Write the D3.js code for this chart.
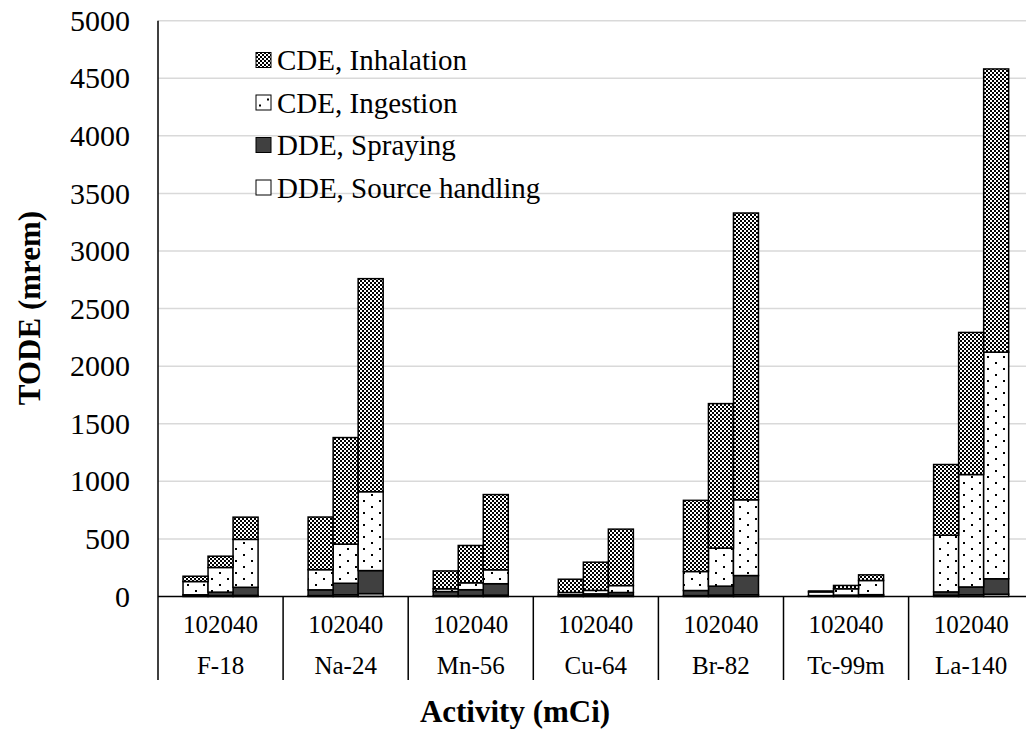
<!DOCTYPE html>
<html>
<head>
<meta charset="utf-8">
<script src="https://cdn.jsdelivr.net/npm/d3@7"></script>
<style>
body { margin: 0; background: #fff; }
svg text { font-family: "Liberation Serif", "Times New Roman", serif; fill: #000; }
</style>
</head>
<body>
<svg id="chart" width="1026" height="742"></svg>
<script>
// isotopes on the x axis, three activities (mCi) per isotope
var isotopes = ["F-18", "Na-24", "Mn-56", "Cu-64", "Br-82", "Tc-99m", "La-140"];
var activities = ["10", "20", "40"];
var seriesNames = ["DDE, Source handling", "DDE, Spraying", "CDE, Ingestion", "CDE, Inhalation"];

// dose (mrem) per isotope, for activity 10 / 20 / 40
var sourceHandling = [[3, 8, 10], [8, 15, 25], [5, 8, 12], [5, 8, 10], [8, 12, 15], [4, 6, 8], [10, 15, 20]];
var spraying       = [[12, 30, 70], [50, 100, 200], [38, 51, 99], [10, 15, 25], [44, 78, 167], [4, 6, 8], [30, 68, 134]];
var ingestion      = [[115, 214, 416], [175, 340, 685], [24, 60, 121], [20, 30, 60], [165, 330, 658], [32, 55, 123], [492, 976, 1968]];
var inhalation     = [[46, 98, 193], [457, 925, 1850], [155, 324, 653], [115, 245, 490], [618, 1255, 2490], [8, 29, 49], [614, 1234, 2459]];

var yTicks = [0, 500, 1000, 1500, 2000, 2500, 3000, 3500, 4000, 4500, 5000];

var serif = "'Liberation Serif', 'Times New Roman', serif";

var svg = d3.select("#chart");

var plotLeft = 158,
groupStep = 125.1,
y0 = 596.5,
yTop = 20.7;

var y = d3.scaleLinear()
.domain([0, 5000])
.range([y0, yTop]);

var xGroup = d3.scaleBand()
.domain(isotopes)
.range([plotLeft, plotLeft + groupStep * isotopes.length]);

var xBar = d3.scaleBand()
.domain(activities)
.range([0, groupStep])
.paddingInner(0)
.paddingOuter(1);

// patterns
var defs = svg.append("defs");

var checker = defs.append("pattern")
.attr("id", "checker")
.attr("patternUnits", "userSpaceOnUse")
.attr("width", 4).attr("height", 4);
checker.append("rect").attr("width", 4).attr("height", 4).attr("fill", "#fff");
checker.append("rect").attr("width", 2).attr("height", 2).attr("fill", "#000");
checker.append("rect").attr("x", 2).attr("y", 2).attr("width", 2).attr("height", 2).attr("fill", "#000");

var dots = defs.append("pattern")
.attr("id", "dots")
.attr("patternUnits", "userSpaceOnUse")
.attr("width", 16).attr("height", 12);
dots.append("rect").attr("width", 16).attr("height", 12).attr("fill", "#fff");
dots.append("rect").attr("x", 3).attr("y", 2).attr("width", 2).attr("height", 2).attr("fill", "#000");
dots.append("rect").attr("x", 11).attr("y", 8).attr("width", 2).attr("height", 2).attr("fill", "#000");

var fills = {
  "DDE, Source handling": "#ffffff",
  "DDE, Spraying": "#404040",
  "CDE, Ingestion": "url(#dots)",
  "CDE, Inhalation": "url(#checker)"
};

// gridlines
svg.append("g")
.selectAll("line")
.data(yTicks.slice(1))
.enter()
.append("line")
.attr("x1", plotLeft)
.attr("x2", 1026)
.attr("y1", function(d) { return y(d); })
.attr("y2", function(d) { return y(d); })
.attr("stroke", "#d9d9d9")
.attr("stroke-width", 1.5);

// tick labels
var yAxis = d3.axisLeft(y)
.tickValues(yTicks)
.tickFormat(d3.format("d"))
.tickSize(0)
.tickPadding(28);

var yg = svg.append("g")
.attr("transform", "translate(" + plotLeft + ",0)")
.call(yAxis)
.attr("font-family", null)
.attr("font-size", null);
yg.select(".domain").remove();
yg.selectAll("text")
.style("font-family", serif)
.style("font-size", "30px")
.attr("fill", "#000");

// stacked bars
var rows = [];
isotopes.forEach(function(iso, i) {
  activities.forEach(function(act, j) {
    rows.push({
      isotope: iso,
      activity: act,
      "DDE, Source handling": sourceHandling[i][j],
      "DDE, Spraying": spraying[i][j],
      "CDE, Ingestion": ingestion[i][j],
      "CDE, Inhalation": inhalation[i][j]
    });
  });
});

var stacked = d3.stack().keys(seriesNames)(rows);

svg.append("g")
.selectAll("g")
.data(stacked)
.enter()
.append("g")
.attr("fill", function(d) { return fills[d.key]; })
.selectAll("rect")
.data(function(d) { return d; })
.enter()
.append("rect")
.attr("x", function(d) { return xGroup(d.data.isotope) + xBar(d.data.activity); })
.attr("width", xBar.bandwidth())
.attr("y", function(d) { return y(d[1]); })
.attr("height", function(d) { return y(d[0]) - y(d[1]); })
.attr("stroke", "#000")
.attr("stroke-width", 1.5);

// axes lines
svg.append("line")
.attr("x1", plotLeft).attr("x2", plotLeft)
.attr("y1", yTop).attr("y2", 680)
.attr("stroke", "#000").attr("stroke-width", 1.5);

svg.append("line")
.attr("x1", plotLeft).attr("x2", 1026)
.attr("y1", y0).attr("y2", y0)
.attr("stroke", "#000").attr("stroke-width", 1.5);

// group dividers under the axis
svg.append("g")
.selectAll("line")
.data(isotopes)
.enter()
.append("line")
.attr("x1", function(d) { return xGroup(d) + groupStep; })
.attr("x2", function(d) { return xGroup(d) + groupStep; })
.attr("y1", y0)
.attr("y2", 680)
.attr("stroke", "#000")
.attr("stroke-width", 1.5);

// activity labels (10 20 40 sit side by side)
svg.append("g")
.selectAll("text")
.data(rows)
.enter()
.append("text")
.attr("x", function(d) { return xGroup(d.isotope) + xBar(d.activity) + xBar.bandwidth() / 2; })
.attr("y", 633)
.attr("text-anchor", "middle")
.style("font-family", serif)
.style("font-size", "25px")
.text(function(d) { return d.activity; });

// isotope labels
svg.append("g")
.selectAll("text")
.data(isotopes)
.enter()
.append("text")
.attr("x", function(d) { return xGroup(d) + groupStep / 2; })
.attr("y", 674)
.attr("text-anchor", "middle")
.style("font-family", serif)
.style("font-size", "25px")
.text(function(d) { return d; });

// axis titles
svg.append("text")
.attr("x", 515)
.attr("y", 722)
.attr("text-anchor", "middle")
.style("font-family", serif)
.style("font-size", "31px")
.style("font-weight", "bold")
.text("Activity (mCi)");

svg.append("text")
.attr("transform", "translate(40," + 308 + ") rotate(-90)")
.attr("text-anchor", "middle")
.style("font-family", serif)
.style("font-size", "31px")
.style("font-weight", "bold")
.text("TODE (mrem)");

// legend
var legendOrder = seriesNames.slice().reverse();
var legend = svg.append("g")
.attr("transform", "translate(256,60)");

var items = legend.selectAll("g")
.data(legendOrder)
.enter()
.append("g")
.attr("transform", function(d, i) { return "translate(0," + (i * 42.5) + ")"; });

items.append("rect")
.attr("x", 0)
.attr("y", -7.5)
.attr("width", 15)
.attr("height", 15)
.attr("fill", function(d) { return fills[d]; })
.attr("stroke", "#000")
.attr("stroke-width", 1);

items.append("text")
.attr("x", 21)
.attr("y", 0)
.attr("dy", "0.35em")
.style("font-family", serif)
.style("font-size", "29px")
.text(function(d) { return d; });
</script>
</body>
</html>
